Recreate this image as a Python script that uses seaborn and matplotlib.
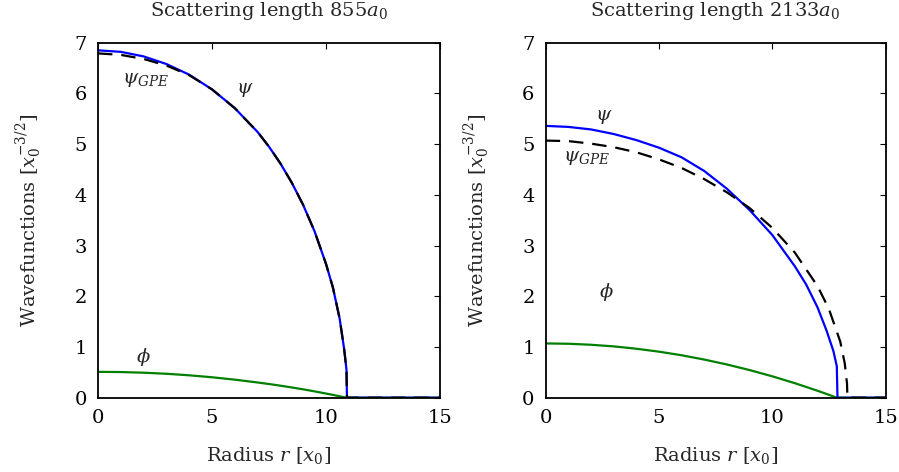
import matplotlib
matplotlib.use("Agg")
import matplotlib.pyplot as plt
import seaborn as sns
import numpy as np

# ---- data ----
# Left panel: scattering length 855 a0
r_left = [0, 1, 2, 3, 4, 5, 6, 7, 7.5, 8, 8.5, 9, 9.5, 10, 10.3, 10.6, 10.8, 10.9, 10.92, 15]
psi_left = [6.85, 6.82, 6.73, 6.58, 6.37, 6.08, 5.71, 5.24, 4.95, 4.62, 4.24, 3.80, 3.28, 2.64,
            2.18, 1.56, 0.95, 0.55, 0.0, 0.0]
gpe_left = [6.79, 6.76, 6.68, 6.55, 6.36, 6.08, 5.71, 5.24, 4.95, 4.62, 4.24, 3.80, 3.28, 2.64,
            2.18, 1.56, 0.95, 0.55, 0.0, 0.0]
phi_left = [0.51, 0.506, 0.493, 0.472, 0.442, 0.403, 0.356, 0.300, 0.270, 0.237, 0.202, 0.165,
            0.125, 0.082, 0.056, 0.028, 0.010, 0.002, 0.0, 0.0]

# Right panel: scattering length 2133 a0
r_psi_right = [0, 1, 2, 3, 4, 5, 6, 7, 8, 9, 10, 11, 11.5, 12, 12.4, 12.7, 12.85, 12.88, 15]
psi_right = [5.36, 5.34, 5.29, 5.20, 5.08, 4.93, 4.74, 4.47, 4.12, 3.70, 3.21, 2.59,
             2.23, 1.78, 1.32, 0.92, 0.62, 0.0, 0.0]
r_gpe_right = [0, 1, 2, 3, 4, 5, 6, 7, 8, 9, 10, 11, 12, 12.5, 13, 13.2, 13.3, 13.32, 15]
gpe_right = [5.07, 5.06, 5.01, 4.94, 4.84, 4.70, 4.53, 4.31, 4.05, 3.74, 3.35, 2.86, 2.20,
             1.75, 1.11, 0.68, 0.28, 0.0, 0.0]
r_phi_right = [0, 1, 2, 3, 4, 5, 6, 7, 8, 9, 10, 11, 12, 12.5, 12.85, 15]
phi_right = [1.07, 1.064, 1.044, 1.012, 0.966, 0.908, 0.837, 0.752, 0.655, 0.545, 0.422,
             0.286, 0.137, 0.058, 0.0, 0.0]

titles = ["Scattering length $855a_0$", "Scattering length $2133a_0$"]
x_ticks = [0, 5, 10, 15]
y_ticks = [0, 1, 2, 3, 4, 5, 6, 7]

sns.set_style("white")
plt.rcParams["font.family"] = ["serif"]
plt.rcParams["font.serif"] = ["DejaVu Serif", "Liberation Serif"]
plt.rcParams["mathtext.fontset"] = "dejavuserif"

FS = 14
fig = plt.figure(figsize=(8.99, 4.72), dpi=100)
ax1 = fig.add_axes([0.109, 0.1574, 0.3804, 0.7521])
ax2 = fig.add_axes([0.607, 0.1574, 0.378, 0.7521])

BLUE = (0, 0, 1)
GREEN = (0, 0.5, 0)
LW = 1.6

panels = [
    (ax1, r_left, psi_left, r_left, gpe_left, r_left, phi_left),
    (ax2, r_psi_right, psi_right, r_gpe_right, gpe_right, r_phi_right, phi_right),
]

for i, (ax, rp, pp, rg, gg, rf, ff) in enumerate(panels):
    sns.lineplot(x=rf, y=ff, ax=ax, color=GREEN, lw=LW, estimator=None, sort=False)
    sns.lineplot(x=rp, y=pp, ax=ax, color=BLUE, lw=LW, estimator=None, sort=False)
    sns.lineplot(x=rg, y=gg, ax=ax, color="black", lw=LW, estimator=None, sort=False,
                 linestyle=(0, (6.5, 4)))
    ax.set_xlim(0, 15)
    ax.set_ylim(0, 7)
    ax.set_xticks(x_ticks)
    ax.set_yticks(y_ticks)
    ax.tick_params(direction="in", length=4, width=0.8, top=True, right=True,
                   labelsize=FS, pad=8, colors="black")
    for s in ax.spines.values():
        s.set_visible(True)
        s.set_color("black")
        s.set_linewidth(1.3)
    ax.set_title(titles[i], fontsize=FS, pad=19)
    ax.set_xlabel("Radius $r$ $[x_0]$", fontsize=FS, labelpad=13)
    ax.set_ylabel("Wavefunctions $[x_0^{-3/2}]$", fontsize=FS, labelpad=22)

# curve labels
ax1.text(2.09, 6.27, r"$\psi_{GPE}$", fontsize=FS, ha="center", va="center")
ax1.text(6.43, 6.07, r"$\psi$", fontsize=FS, ha="center", va="center")
ax1.text(2.0, 0.81, r"$\phi$", fontsize=FS, ha="center", va="center")
ax2.text(2.57, 5.53, r"$\psi$", fontsize=FS, ha="center", va="center")
ax2.text(1.79, 4.73, r"$\psi_{GPE}$", fontsize=FS, ha="center", va="center")
ax2.text(2.67, 2.08, r"$\phi$", fontsize=FS, ha="center", va="center")

fig.savefig("out.png", dpi=100)
